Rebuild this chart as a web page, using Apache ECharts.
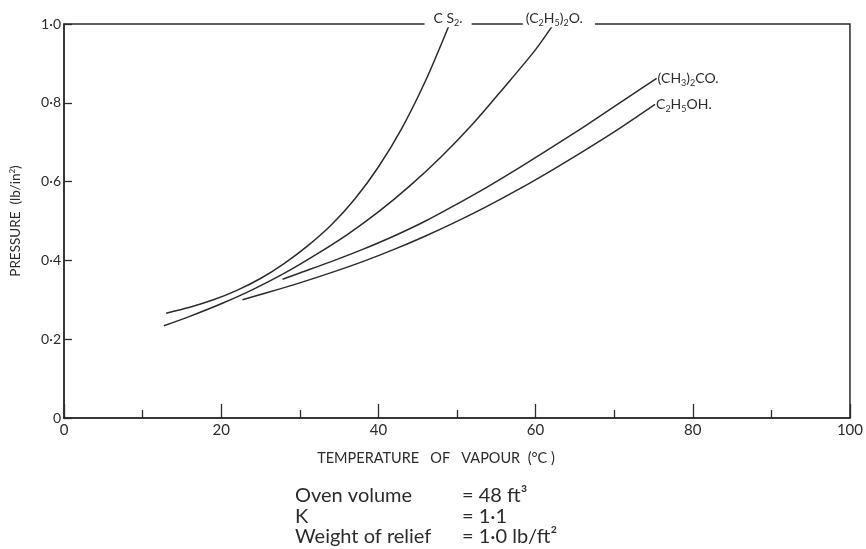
<!DOCTYPE html>
<html>
<head>
<meta charset="utf-8">
<script src="https://cdn.jsdelivr.net/npm/echarts@6/dist/echarts.min.js"></script>
<style>
  html, body { margin: 0; padding: 0; background: #fff; }
  #chart { width: 866px; height: 549px; }
</style>
</head>
<body>
<div id="chart"></div>
<script>
(function () {
  'use strict';

  // ── Data (temperature °C, pressure lb/in²) ──

  var cs2T = [13, 16, 19, 22, 25, 28, 31, 34, 37, 40, 43, 46, 49];
  var cs2P = [0.266, 0.281, 0.3, 0.324, 0.354, 0.392, 0.437, 0.49, 0.556, 0.637, 0.736, 0.856, 0.997];

  var etherT = [12.7, 16, 20, 24, 28, 32, 36, 40, 44, 48, 52, 56, 60, 62.2];
  var etherP = [0.234, 0.258, 0.29, 0.326, 0.367, 0.414, 0.465, 0.523, 0.589, 0.663, 0.746, 0.839, 0.935, 0.997];

  var acetoneT = [27.8, 30, 34, 38, 42, 46, 50, 54, 58, 62, 66, 70, 75.4];
  var acetoneP = [0.352, 0.368, 0.397, 0.428, 0.462, 0.5, 0.543, 0.588, 0.636, 0.686, 0.737, 0.79, 0.862];

  var alcoholT = [22.7, 26, 30, 34, 38, 42, 46, 50, 54, 58, 62, 66, 70, 75.2];
  var alcoholP = [0.3, 0.319, 0.343, 0.369, 0.397, 0.428, 0.462, 0.499, 0.539, 0.582, 0.628, 0.676, 0.726, 0.796];

  var seriesLabels = [
    '{m|C S}{s|2}{m|.}',
    '{m|(C}{s|2}{m|H}{s|5}{m|)}{s|2}{m|O.}',
    '{m|(CH}{s|3}{m|)}{s|2}{m|CO.}',
    '{m|C}{s|2}{m|H}{s|5}{m|OH.}'
  ];

  var footLeft = ['Oven volume', 'K', 'Weight of relief'];
  var footRight = ['= 48 ft³', '= 1·1', '= 1·0 lb/ft²'];

  // ── Style ──

  var INK = '#2b2b2b';
  var FONT = 'Lato';
  var RICH = {
    m: { fontSize: 14, lineHeight: 18, color: INK, fontFamily: FONT },
    s: { fontSize: 9, lineHeight: 10, verticalAlign: 'bottom', color: INK, fontFamily: FONT }
  };

  function pairs(xs, ys) {
    return xs.map(function (x, i) { return [x, ys[i]]; });
  }

  function curve(name, xs, ys, labelText, labelOpts) {
    var data = pairs(xs, ys);
    var last = data.length - 1;
    data[last] = {
      value: data[last],
      label: Object.assign({
        show: true,
        formatter: labelText,
        rich: RICH
      }, labelOpts)
    };
    return {
      name: name,
      type: 'line',
      data: data,
      smooth: 0.3,
      showSymbol: true,
      symbol: 'circle',
      symbolSize: 0,
      label: { show: false },
      lineStyle: { color: INK, width: 1.5 },
      itemStyle: { color: INK },
      silent: true,
      z: 3
    };
  }

  var topLabel = {
    position: 'top',
    distance: -2,
    backgroundColor: '#fff'
  };

  var chart = echarts.init(document.getElementById('chart'), null, { renderer: 'canvas' });

  chart.setOption({
    animation: false,
    backgroundColor: '#fff',
    grid: {
      left: 63, right: 16, top: 24, bottom: 131,
      show: true,
      borderColor: INK,
      borderWidth: 1.5,
      backgroundColor: 'transparent'
    },
    xAxis: {
      type: 'value',
      min: 0, max: 100, interval: 20,
      name: 'TEMPERATURE   OF   VAPOUR  (°C )',
      nameLocation: 'middle',
      nameGap: 33,
      nameTextStyle: { color: INK, fontFamily: FONT, fontSize: 14.5, padding: [0, 42, 0, 0] },
      axisLine: { lineStyle: { color: INK, width: 1.5 } },
      axisTick: { inside: true, length: 14, lineStyle: { color: INK, width: 1.3 } },
      minorTick: { show: true, splitNumber: 2, length: 8, lineStyle: { color: INK, width: 1.3 } },
      axisLabel: { color: INK, fontFamily: FONT, fontSize: 15, margin: 5 },
      splitLine: { show: false }
    },
    yAxis: {
      type: 'value',
      min: 0, max: 1, interval: 0.2,
      name: '{a|PRESSURE  (lb/in}{u|2}{a|)}',
      nameLocation: 'middle',
      nameGap: 40,
      nameRotate: 90,
      nameTextStyle: {
        rich: {
          a: { fontSize: 13.5, lineHeight: 16, color: INK, fontFamily: FONT },
          u: { fontSize: 8, lineHeight: 8, verticalAlign: 'top', color: INK, fontFamily: FONT }
        }
      },
      axisLine: { lineStyle: { color: INK, width: 1.5 } },
      axisTick: { inside: true, length: 8, lineStyle: { color: INK, width: 1.3 } },
      axisLabel: {
        color: INK, fontFamily: FONT, fontSize: 14, margin: 3,
        formatter: function (v) { return v === 0 ? '0' : v.toFixed(1).replace('.', '·'); }
      },
      splitLine: { show: false }
    },
    series: [
      curve('CS2', cs2T, cs2P, seriesLabels[0],
        Object.assign({}, topLabel, { padding: [0, 9, 0, 9], offset: [-1, 0] })),
      curve('(C2H5)2O', etherT, etherP, seriesLabels[1],
        Object.assign({}, topLabel, { padding: [0, 12, 0, 3], offset: [6, 0] })),
      curve('(CH3)2CO', acetoneT, acetoneP, seriesLabels[2],
        { position: 'right', distance: 1 }),
      curve('C2H5OH', alcoholT, alcoholP, seriesLabels[3],
        { position: 'right', distance: 1 })
    ],
    graphic: footLeft.map(function (t, i) {
      return {
        type: 'text', left: 295, top: 486 + i * 20.5,
        style: { text: t, fill: INK, font: '20px ' + FONT }
      };
    }).concat(footRight.map(function (t, i) {
      return {
        type: 'text', left: 462, top: 486 + i * 20.5,
        style: { text: t, fill: INK, font: '20px ' + FONT }
      };
    }))
  });
})();
</script>
</body>
</html>
